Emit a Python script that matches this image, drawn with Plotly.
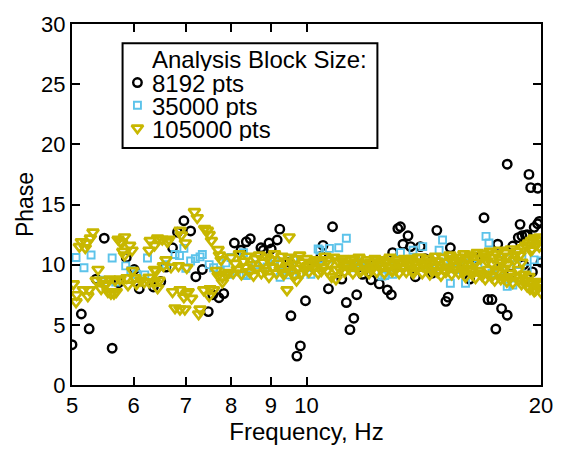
import math
import plotly.graph_objects as go

FONT = "Liberation Sans, Arial, Helvetica, sans-serif"

# Phase vs frequency for three analysis block sizes: (frequency Hz, phase)
pts_8192 = [
    (5.00, 3.35), (5.14, 5.9), (5.26, 4.67), (5.37, 8.8), (5.50, 12.2), (5.63, 3.06),
    (5.74, 8.5), (5.87, 10.6), (6.01, 9.6), (6.10, 8.0), (6.36, 8.15), (6.50, 8.6),
    (6.60, 9.8), (6.73, 11.4), (6.83, 12.7), (6.96, 13.65), (7.10, 12.8), (7.21, 9.0),
    (7.35, 9.6), (7.48, 6.1), (7.58, 7.5), (7.72, 7.25), (7.83, 7.6), (8.08, 11.8),
    (8.24, 11.2), (8.37, 11.9), (8.47, 12.15), (8.74, 11.4), (8.80, 11.2), (8.95, 11.8),
    (9.01, 11.3), (9.17, 12.05), (9.24, 12.95), (9.50, 10.2), (9.55, 5.75), (9.72, 2.4),
    (9.82, 3.25), (9.97, 7.0), (10.20, 9.8), (10.44, 10.7), (10.50, 11.6), (10.67, 8.0),
    (10.80, 13.15), (11.10, 8.8), (11.25, 6.85), (11.37, 4.6), (11.50, 5.55), (11.60, 7.5),
    (11.80, 9.2), (12.10, 8.75), (12.20, 10.0), (12.40, 8.4), (12.70, 7.9), (12.85, 7.5),
    (12.90, 11.0), (13.10, 13.0), (13.20, 13.15), (13.30, 11.7), (13.50, 12.4), (13.60, 11.5),
    (13.80, 9.0), (14.00, 11.5), (14.20, 10.5), (14.50, 9.3), (14.70, 12.85), (15.10, 6.95),
    (15.20, 7.3), (15.30, 11.4), (15.60, 9.8), (16.20, 8.8), (16.50, 10.6), (16.90, 13.9),
    (17.10, 7.1), (17.30, 7.1), (17.50, 4.65), (17.60, 11.7), (17.70, 10.3), (17.80, 6.35),
    (18.10, 5.8), (18.10, 18.35), (18.30, 9.2), (18.40, 11.55), (18.70, 12.25), (18.80, 13.35),
    (18.90, 12.4), (19.00, 10.0), (19.10, 12.45), (19.20, 12.5), (19.30, 17.5), (19.40, 16.4),
    (19.50, 9.4), (19.60, 13.1), (19.80, 16.35), (19.80, 13.4), (19.90, 13.6), (20.00, 10.2),
]

pts_35000 = [
    (5.06, 10.6), (5.18, 9.75), (5.29, 10.8), (5.45, 8.7), (5.63, 10.55), (5.69, 8.55),
    (5.86, 9.9), (5.95, 9.5), (6.05, 9.2), (6.20, 9.15), (6.25, 10.55), (6.60, 10.0),
    (6.78, 10.85), (6.87, 10.75), (6.96, 11.35), (7.00, 9.7), (7.10, 10.3), (7.20, 10.5),
    (7.30, 10.65), (7.35, 10.85), (7.50, 10.0), (7.60, 9.75), (7.75, 9.5), (7.88, 10.15),
    (7.98, 9.2), (8.00, 10.6), (8.30, 11.0), (8.30, 9.2), (8.37, 9.1), (8.60, 10.0),
    (8.90, 9.8), (9.10, 10.3), (9.25, 10.0), (9.25, 8.95), (9.50, 9.15), (9.62, 10.4),
    (9.80, 9.2), (10.13, 9.2), (10.35, 11.3), (10.40, 11.2), (10.50, 9.9), (10.70, 11.35),
    (10.90, 10.1), (11.00, 11.4), (11.25, 12.2), (11.40, 9.75), (11.50, 9.9), (11.70, 10.2),
    (12.00, 9.8), (12.30, 10.3), (12.50, 9.05), (12.60, 9.1), (12.90, 9.2), (13.00, 9.9),
    (13.20, 11.0), (13.50, 10.2), (13.70, 11.2), (14.10, 11.5), (14.40, 9.7), (14.80, 11.2),
    (14.95, 12.05), (15.00, 10.2), (15.30, 8.45), (15.60, 9.6), (15.90, 9.85), (16.00, 8.45),
    (16.10, 10.15), (16.60, 10.0), (17.00, 12.35), (17.15, 11.8), (17.30, 9.3), (17.70, 10.4),
    (17.70, 9.5), (18.10, 10.5), (18.10, 8.2), (18.40, 8.3), (18.60, 10.0), (18.90, 10.7),
    (19.20, 9.7), (19.60, 10.4), (20.00, 10.3),
]

pts_105000 = [
    # 5-8 Hz
    (5.02, 8.4), (5.06, 6.9), (5.07, 7.5), (5.11, 11.5), (5.14, 11.9), (5.17, 7.9),
    (5.20, 11.4), (5.22, 11.8), (5.24, 7.4), (5.26, 7.9), (5.28, 12.2), (5.32, 12.7),
    (5.37, 8.7), (5.40, 9.6), (5.45, 8.0), (5.47, 8.7), (5.50, 8.3), (5.53, 8.4),
    (5.56, 7.75), (5.59, 8.8), (5.61, 7.6), (5.66, 7.6), (5.68, 8.7), (5.70, 7.75),
    (5.73, 12.1), (5.76, 8.8), (5.77, 11.9), (5.79, 11.8), (5.81, 11.1), (5.84, 12.3),
    (5.84, 10.8), (5.88, 8.9), (5.90, 8.3), (5.93, 11.6), (5.97, 11.2), (5.98, 9.5),
    (6.02, 8.9), (6.05, 8.4), (6.13, 8.7), (6.19, 8.55), (6.28, 8.95), (6.28, 11.2),
    (6.28, 8.55), (6.30, 12.0), (6.38, 11.6), (6.38, 9.6), (6.38, 8.55), (6.41, 9.5),
    (6.44, 12.2), (6.44, 8.05), (6.47, 8.7), (6.53, 12.1), (6.55, 9.9), (6.60, 10.4),
    (6.63, 11.9), (6.66, 12.1), (6.70, 9.8), (6.73, 7.75), (6.78, 6.4), (6.85, 9.9),
    (6.88, 7.9), (6.88, 6.3), (6.88, 12.85), (6.91, 12.45), (6.96, 7.3), (6.98, 6.3),
    (6.99, 11.8), (7.02, 7.6), (7.02, 9.75), (7.05, 7.75), (7.12, 7.2), (7.18, 14.4),
    (7.24, 13.9), (7.27, 5.9), (7.30, 6.3), (7.38, 7.9), (7.40, 13.0), (7.46, 12.85),
    (7.50, 12.5), (7.50, 7.4), (7.52, 8.0), (7.55, 12.0), (7.60, 7.9), (7.66, 9.5),
    (7.70, 11.25), (7.70, 9.1), (7.73, 10.8), (7.77, 10.4), (7.80, 8.55), (7.80, 8.95),
    (7.88, 9.2), (7.95, 9.35),
    # 8-10 Hz
    (8.00, 10.6), (8.05, 9.3), (8.10, 10.1), (8.15, 9.6), (8.20, 10.9), (8.25, 9.2),
    (8.30, 10.3), (8.35, 9.8), (8.40, 10.7), (8.45, 9.4), (8.50, 10.0), (8.55, 9.1),
    (8.60, 10.5), (8.65, 9.7), (8.70, 10.8), (8.75, 9.3), (8.80, 10.2), (8.85, 9.5),
    (8.90, 10.6), (8.95, 9.0), (9.00, 10.4), (9.05, 9.8), (9.10, 10.9), (9.15, 9.3),
    (9.20, 10.1), (9.25, 9.6), (9.30, 10.7), (9.35, 9.2), (9.38, 9.35), (9.40, 10.3),
    (9.44, 7.9), (9.45, 9.9), (9.50, 12.3), (9.50, 10.6), (9.55, 9.4), (9.60, 10.0),
    (9.65, 9.1), (9.70, 10.5), (9.71, 8.7), (9.75, 9.7), (9.80, 10.8), (9.85, 9.3),
    (9.90, 10.2), (9.95, 9.6),
    # 10-14 Hz
    (10.00, 10.5), (10.03, 9.9), (10.07, 9.4), (10.14, 10.0), (10.21, 9.7), (10.25, 10.3),
    (10.28, 10.4), (10.35, 9.3), (10.42, 10.2), (10.45, 9.5), (10.49, 9.8), (10.56, 10.7),
    (10.63, 9.5), (10.65, 10.4), (10.70, 10.1), (10.77, 9.0), (10.84, 10.6), (10.90, 9.6),
    (10.91, 8.8), (10.98, 10.3), (11.05, 9.6), (11.10, 10.3), (11.12, 10.5), (11.19, 9.4),
    (11.26, 10.0), (11.30, 9.9), (11.33, 9.7), (11.40, 10.4), (11.47, 9.3), (11.50, 10.5),
    (11.54, 10.2), (11.61, 9.8), (11.68, 10.6), (11.70, 9.4), (11.75, 9.5), (11.82, 10.1),
    (11.89, 9.6), (11.90, 10.0), (11.96, 10.4), (12.03, 9.3), (12.10, 10.2), (12.10, 9.6),
    (12.17, 9.8), (12.24, 10.5), (12.30, 10.4), (12.31, 9.4), (12.38, 10.0), (12.45, 9.7),
    (12.50, 9.9), (12.52, 10.4), (12.59, 9.3), (12.66, 10.2), (12.70, 10.3), (12.73, 9.8),
    (12.80, 10.6), (12.87, 9.5), (12.90, 9.5), (12.94, 10.1), (13.01, 9.6), (13.08, 10.4),
    (13.10, 10.1), (13.15, 9.3), (13.22, 10.2), (13.29, 9.8), (13.30, 9.7), (13.36, 10.5),
    (13.43, 9.4), (13.50, 10.0), (13.50, 10.4), (13.57, 9.7), (13.64, 10.5), (13.70, 9.5),
    (13.71, 9.3), (13.78, 10.2), (13.85, 9.8), (13.90, 10.0), (13.92, 10.6),
    # 14-20 Hz
    (14.00, 10.6), (14.08, 9.3), (14.10, 9.9), (14.16, 10.1), (14.24, 9.7), (14.30, 10.2),
    (14.32, 10.5), (14.40, 9.2), (14.48, 10.3), (14.50, 9.5), (14.56, 9.8), (14.64, 10.7),
    (14.70, 10.3), (14.72, 9.4), (14.80, 10.0), (14.88, 9.1), (14.90, 9.8), (14.96, 10.6),
    (15.04, 9.5), (15.10, 9.4), (15.12, 10.2), (15.20, 9.7), (15.28, 10.8), (15.30, 10.5),
    (15.36, 9.2), (15.44, 10.4), (15.50, 9.6), (15.52, 9.9), (15.60, 10.6), (15.68, 9.3),
    (15.70, 10.3), (15.76, 10.1), (15.84, 9.6), (15.90, 9.4), (15.92, 10.9), (16.00, 9.0),
    (16.08, 10.4), (16.10, 10.6), (16.16, 9.7), (16.24, 10.8), (16.30, 9.5), (16.32, 9.2),
    (16.40, 10.2), (16.48, 8.9), (16.50, 10.2), (16.56, 11.0), (16.64, 9.5), (16.70, 9.3),
    (16.72, 10.5), (16.80, 9.1), (16.88, 10.9), (16.90, 10.7), (16.96, 8.8), (17.04, 10.3),
    (17.10, 9.2), (17.12, 9.6), (17.20, 11.1), (17.28, 9.0), (17.30, 10.1), (17.36, 10.6),
    (17.44, 8.7), (17.50, 9.6), (17.52, 10.9), (17.60, 9.4), (17.68, 11.2), (17.70, 10.4),
    (17.76, 8.8), (17.84, 10.2), (17.90, 8.9), (17.92, 9.7), (18.00, 11.0), (18.08, 8.6),
    (18.10, 10.0), (18.16, 10.7), (18.24, 9.3), (18.30, 9.0), (18.32, 11.3), (18.40, 8.5),
    (18.48, 10.4), (18.50, 10.8), (18.56, 9.0), (18.64, 11.1), (18.70, 9.6), (18.72, 8.7),
    (18.80, 10.8), (18.88, 8.4), (18.90, 10.2), (18.96, 11.4), (19.04, 9.2), (19.10, 8.7),
    (19.12, 11.6), (19.20, 8.2), (19.28, 11.8), (19.30, 9.0), (19.36, 8.0), (19.40, 11.2),
    (19.44, 12.0), (19.50, 11.3), (19.52, 8.4), (19.60, 12.2), (19.60, 7.8), (19.68, 7.9),
    (19.70, 8.6), (19.76, 11.7), (19.84, 8.1), (19.85, 12.0), (19.90, 11.5), (19.92, 12.3),
    (19.95, 8.4), (20.00, 7.7),
]

series_names = ["8192 pts", "35000 pts", "105000 pts"]
series_points = [pts_8192, pts_35000, pts_105000]
series_colors = ["#000000", "#5cc3ea", "#c8b700"]
series_symbols = ["circle-open", "square-open", "triangle-down-open"]
series_sizes = [8.5, 7, 10]
series_widths = [2.4, 1.9, 2.7]

x_ticks = [5, 6, 7, 8, 9, 10, 20]
y_ticks = [0, 5, 10, 15, 20, 25, 30]
legend_title = "Analysis Block Size:"

fig = go.Figure()

for name, pts, color, sym, size, lw in zip(series_names, series_points, series_colors,
                                           series_symbols, series_sizes, series_widths):
    fx = [p[0] for p in pts]
    fy = [p[1] for p in pts]
    fig.add_trace(go.Scatter(
        x=fx, y=fy, mode="markers", name=name, showlegend=False,
        marker=dict(symbol=sym, size=size, color=color, line=dict(color=color, width=lw)),
    ))

# Legend drawn on a pixel-like overlay axis spanning the plot area
L_LEFT, L_RIGHT, L_TOP, L_BOTTOM = 123, 380, 40, 148
sym_x, text_x = 138, 152
row_y = [80.5, 104, 127.5]
LEGEND_FONT = dict(family=FONT, size=24, color="black")
ROW_H = 23
fig.add_shape(type="rect", xref="x2", yref="y2", x0=L_LEFT, x1=L_RIGHT, y0=L_TOP, y1=L_BOTTOM,
              line=dict(color="black", width=2), fillcolor="white", layer="below")
fig.add_annotation(xref="x2", yref="y2", x=text_x, y=57, text=legend_title, showarrow=False,
                   xanchor="left", yanchor="middle", font=LEGEND_FONT, height=ROW_H,
                   borderpad=0)
for name, color, sym, size, lw, yy in zip(series_names, series_colors, series_symbols,
                                         series_sizes, series_widths, row_y):
    fig.add_trace(go.Scatter(
        x=[sym_x], y=[yy], xaxis="x2", yaxis="y2", mode="markers", showlegend=False,
        marker=dict(symbol=sym, size=size, color=color, line=dict(color=color, width=lw)),
        hoverinfo="skip",
    ))
    fig.add_annotation(xref="x2", yref="y2", x=text_x, y=yy + 1, text=name, showarrow=False,
                       xanchor="left", yanchor="middle", font=LEGEND_FONT, height=ROW_H,
                       borderpad=0)

axis_common = dict(
    showline=True, linewidth=2, linecolor="black", mirror="ticks",
    ticks="inside", ticklen=8, tickwidth=2, tickcolor="black",
    showgrid=False, zeroline=False,
    tickfont=dict(family=FONT, size=22, color="black"),
)

fig.update_layout(
    width=565, height=451,
    margin=dict(l=72, r=20, t=20, b=58),
    paper_bgcolor="white", plot_bgcolor="white",
    showlegend=False,
    xaxis=dict(
        type="log", range=[math.log10(5), math.log10(20)],
        tickvals=x_ticks, ticktext=[str(v) for v in x_ticks],
        title=dict(text="Frequency, Hz", font=dict(family=FONT, size=24, color="black"), standoff=4),
        **axis_common,
    ),
    yaxis=dict(
        range=[0, 30], tickvals=y_ticks, ticktext=[str(v) for v in y_ticks],
        title=dict(text="Phase", font=dict(family=FONT, size=23, color="black"), standoff=1),
        **axis_common,
    ),
    xaxis2=dict(overlaying="x", range=[72, 545], visible=False, fixedrange=True),
    yaxis2=dict(overlaying="y", range=[393, 20], visible=False, fixedrange=True),
)

fig.write_html("out.html")
